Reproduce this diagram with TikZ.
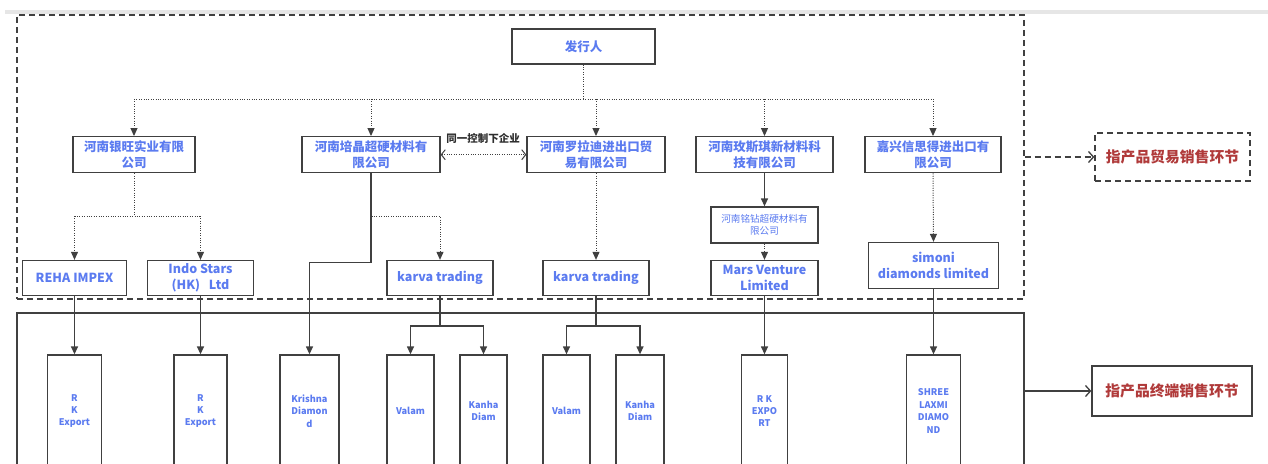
\documentclass[tikz,border=0pt]{standalone}
\usepackage{fontspec}
\setmainfont{Noto Sans CJK SC}
\usetikzlibrary{arrows.meta}
\definecolor{bd}{HTML}{404040}
\definecolor{tb}{HTML}{5B7BF0}
\definecolor{tr}{HTML}{B03A3A}
\definecolor{gb}{HTML}{E6E6E6}
\begin{document}
\begin{tikzpicture}[x=1pt,y=-1pt,
  box/.style={draw=bd,line width=1.3pt,fill=white,inner sep=0pt,align=center,text=tb,font=\bfseries\fontsize{12.5}{16.5}\selectfont},
  l1/.style={box,minimum height=36pt},
  l2/.style={box,minimum height=35pt,font=\bfseries\fontsize{12.5}{15.7}\selectfont},
  tall/.style={box,minimum height=112pt,font=\bfseries\fontsize{9.2}{12.4}\selectfont},
  dotl/.style={draw=bd,line width=1pt,dash pattern=on 1pt off 1.4pt},
  sol/.style={draw=bd,line width=1.3pt},
  tip/.style={-{Triangle[length=8pt,width=7pt]}},
  barb/.style={-{Straight Barb[length=5pt,width=11pt]}},
  frame/.style={draw=bd,line width=1.3pt,inner sep=0pt},
]
\path[use as bounding box] (0,0) rectangle (1268,463);
\clip (0,0) rectangle (1268,463);
\fill[gb] (5,10) rectangle (1268,13.5);

% frames
\node[frame,dash pattern=on 6pt off 4pt,minimum width=1007pt,minimum height=284pt] (trade) at (520.5,157) {};
\node[frame,minimum width=1007pt,minimum height=156pt] (term) at (520.5,391) {};

% level 0/1
\node[box,minimum width=143pt,minimum height=35pt] (fx) at (583.5,46.5) {发行人};
\node[l1,minimum width=122pt] (yw) at (134,154.7) {河南银旺实业有限\\公司};
\node[l1,minimum width=138pt] (pj) at (371,154.7) {河南培晶超硬材料有\\限公司};
\node[l1,minimum width=138pt] (lld) at (596,154.7) {河南罗拉迪进出口贸\\易有限公司};
\node[l1,minimum width=137pt] (msq) at (764.5,154.7) {河南玫斯琪新材料科\\技有限公司};
\node[l1,minimum width=136pt] (jx) at (933,154.7) {嘉兴信思得进出口有\\限公司};
\node[font=\bfseries\fontsize{10.5}{12}\selectfont,text=bd!70!black,inner sep=0pt] (lbl) at (483,138) {同一控制下企业};

% level 2
\node[l2,minimum width=104pt] (reha) at (74.5,278) {REHA IMPEX};
\node[l2,minimum width=106pt] (indo) at (200.5,278) {Indo Stars\\(HK)\ \ \ Ltd};
\node[l2,minimum width=106pt] (karva1) at (440,278) {karva trading};
\node[l2,minimum width=106pt] (karva2) at (596,278) {karva trading};
\node[box,minimum width=107pt,minimum height=36pt,font=\fontsize{9.6}{12}\selectfont] (mz) at (764.5,225) {河南铭钻超硬材料有\\限公司};
\node[l2,minimum width=107pt] (mars) at (764.5,278) {Mars Venture\\Limited};
\node[l2,minimum width=130pt,minimum height=46pt] (simoni) at (933.5,265.5) {simoni\\diamonds limited};

% level 3
\node[tall,minimum width=54pt] (rk1) at (74.5,411) {R\\K\\Export};
\node[tall,minimum width=53pt] (rk2) at (200.5,411) {R\\K\\Export};
\node[tall,minimum width=59pt] (kr) at (309.5,411) {Krishna\\Diamon\\d};
\node[tall,minimum width=47pt] (va1) at (410.5,411) {Valam};
\node[tall,minimum width=47pt] (ka1) at (483.5,411) {Kanha\\Diam};
\node[tall,minimum width=47pt] (va2) at (566.5,411) {Valam};
\node[tall,minimum width=48pt] (ka2) at (640,411) {Kanha\\Diam};
\node[tall,minimum width=46.5pt] (rk3) at (764.5,411) {R K\\EXPO\\RT};
\node[tall,minimum width=54pt] (sh) at (933.5,411) {SHREE\\LAXMI\\DIAMO\\ND};

% right labels
\node[box,dash pattern=on 6pt off 4pt,minimum width=155pt,minimum height=48pt,text=tr,font=\bfseries\fontsize{14.8}{17}\selectfont] (trbox) at (1172.5,157) {指产品贸易销售环节};
\node[box,minimum width=160pt,minimum height=50pt,text=tr,font=\bfseries\fontsize{14.8}{17}\selectfont] (zd) at (1172,391) {指产品终端销售环节};
\draw[sol,dash pattern=on 6pt off 4pt,barb] (trade.east) -- (trbox.west);
\draw[sol,barb] (term.east) -- (zd.west);

% connectors
\coordinate (bus) at (583.5,99);
\draw[dotl] (fx.south) -- (bus);
\draw[dotl] (yw.north |- bus) -- (jx.north |- bus);
\foreach \n in {yw,pj,lld,msq,jx} \draw[dotl,tip] (\n.north |- bus) -- (\n.north);
\draw[dotl,{Straight Barb[length=4pt,width=10pt]}-{Straight Barb[length=4pt,width=10pt]}] (pj.east) -- (lld.west);

\coordinate (s1) at (134,216);
\draw[dotl] (yw.south) -- (yw.south |- s1);
\draw[dotl] (reha.north |- s1) -- (indo.north |- s1);
\draw[dotl,tip] (reha.north |- s1) -- (reha.north);
\draw[dotl,tip] (indo.north |- s1) -- (indo.north);
\draw[dotl,tip] (pj.south) -- (pj.south |- s1) -| (karva1.north);
\coordinate (k1) at (371,262.7);
\draw[sol,tip] (pj.south) -- (pj.south |- k1) -| (kr.north);
\draw[dotl,tip] (lld.south) -- (karva2.north);
\draw[sol,tip] (msq.south) -- (mz.north);
\draw[dotl,tip] (mz.south) -- (mars.north);
\draw[dotl,tip] (jx.south) -- (simoni.north);

\draw[sol,tip] (reha.south) -- (rk1.north);
\draw[sol,tip] (indo.south) -- (rk2.north);
\draw[sol,tip] (mars.south) -- (rk3.north);
\draw[sol,tip] (simoni.south) -- (sh.north);

\coordinate (s2) at (440,326);
\draw[sol] (karva1.south) -- (karva1.south |- s2);
\draw[sol,tip] (karva1.south |- s2) -| (va1.north);
\draw[sol,tip] (karva1.south |- s2) -| (ka1.north);
\draw[sol] (karva2.south) -- (karva2.south |- s2);
\draw[sol,tip] (karva2.south |- s2) -| (va2.north);
\draw[sol,tip] (karva2.south |- s2) -| (ka2.north);
\end{tikzpicture}
\end{document}
